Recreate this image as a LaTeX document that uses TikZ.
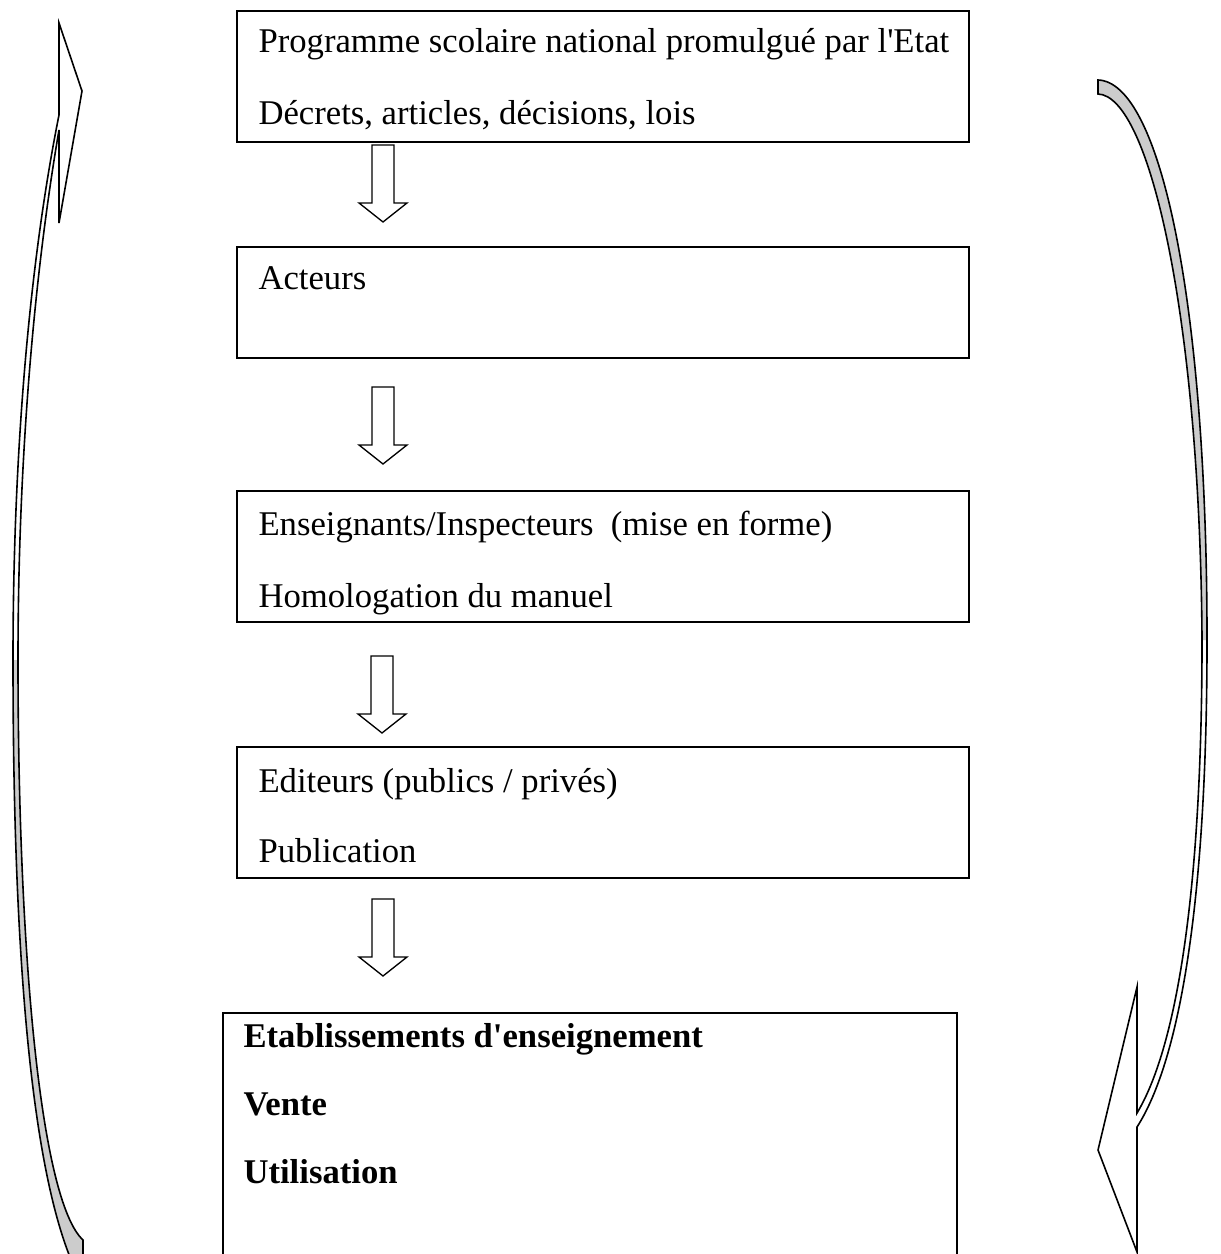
\documentclass[tikz,border=0pt]{standalone}
\usepackage{fontspec}
\newfontfamily\serif{Liberation Serif}
\usepackage{tikz}
\usetikzlibrary{positioning}
\definecolor{bandgray}{RGB}{204,204,204}
\tikzset{
  etape/.style={rectangle, draw, line width=0.75pt, inner sep=0pt, outer sep=0pt, anchor=north west, minimum width=274.5pt, minimum height=49.1pt},
  ligne/.style={anchor=base west, inner sep=0pt, font=\serif\fontsize{13pt}{15pt}\selectfont},
  gras/.style={ligne, font=\serif\bfseries\fontsize{13pt}{15pt}\selectfont},
  fleche/.style={draw, line width=0.5pt, fill=white},
  courbe/.style={draw, line width=0.6pt, line join=miter},
  bande/.style={fill=bandgray}
}
% block arrow pointing down, top centre at (#1,#2)
\newcommand{\flechebas}[2]{%
  \draw[fleche] (#1-11,#2) -- (#1+11,#2) -- (#1+11,#2+58) -- (#1+24,#2+58) -- (#1,#2+77) -- (#1-24,#2+58) -- (#1-11,#2+58) -- cycle;}

\begin{document}
\begin{tikzpicture}[x=0.375pt, y=-0.375pt]
\useasboundingbox (0,0) rectangle (1221,1254);
\fill[white] (0,0) rectangle (1221,1254);
\clip (0,0) rectangle (1221,1254);

% Steps
\node[etape] (programme) at (237,11) {};
\node[etape, minimum height=41.6pt] (acteurs) at (237,247) {};
\node[etape] (enseignants) at (237,491) {};
\node[etape] (editeurs) at (237,747) {};
\node[etape, minimum width=275.25pt, minimum height=100pt] (etablissements) at (223,1013) {};

% Texts
\node[ligne] (prog1) at (258,53) {Programme scolaire national promulgué par l'Etat};
\node[ligne] (prog2) at (258,125) {Décrets, articles, décisions, lois};
\node[ligne] (act1) at (258,290) {Acteurs};
\node[ligne] (ens1) at (258,535) {Enseignants/Inspecteurs\ \ (mise en forme)};
\node[ligne] (ens2) at (258,607) {Homologation du manuel};
\node[ligne] (edi1) at (258,792) {Editeurs (publics / privés)};
\node[ligne] (edi2) at (258,862) {Publication};
\node[gras] (eta1) at (243,1047) {Etablissements d'enseignement};
\node[gras] (eta2) at (243,1115) {Vente};
\node[gras] (eta3) at (243,1183) {Utilisation};

% Down arrows
\flechebas{383}{145}
\flechebas{383}{387}
\flechebas{382}{656}
\flechebas{383}{899}

% Left curved arrow
\fill[bande] (13,660) .. controls (13,900) and (25,1150) .. (72,1262) -- (83,1262) -- (83,1240) .. controls (40,1200) and (18,950) .. (18,660) -- cycle;
\draw[courbe] (59,115) -- (59,23) -- (82,91) -- (59,223) -- (59,130)
  .. controls (35,270) and (18,455) .. (18,660)
  .. controls (18,950) and (40,1200) .. (83,1240) -- (83,1262)
  (72,1262) .. controls (25,1150) and (13,900) .. (13,660)
  .. controls (13,450) and (30,260) .. (59,115);

% Right curved arrow
\fill[bande] (1098,80) .. controls (1160,82) and (1207,300) .. (1207,640) -- (1202,640) .. controls (1200,320) and (1150,96) .. (1098,94) -- cycle;
\draw[courbe] (1098,80) .. controls (1160,82) and (1207,300) .. (1207,640)
  .. controls (1207,900) and (1180,1060) .. (1137,1127) -- (1137,1252) -- (1098,1150) -- (1137,987) -- (1137,1113)
  .. controls (1175,1050) and (1202,900) .. (1202,640)
  .. controls (1200,320) and (1150,96) .. (1098,94) -- cycle;
\end{tikzpicture}
\end{document}
